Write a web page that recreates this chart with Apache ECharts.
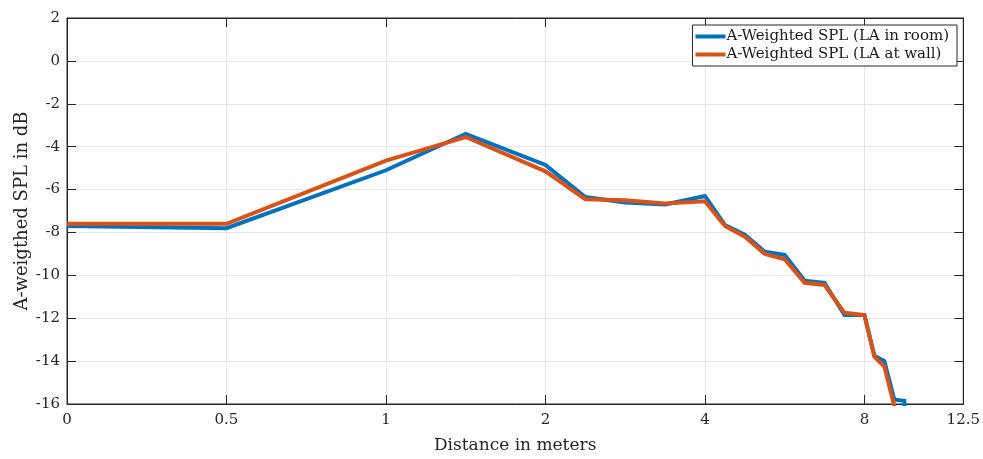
<!DOCTYPE html>
<html>
<head>
<meta charset="utf-8">
<script src="https://cdn.jsdelivr.net/npm/echarts@6/dist/echarts.min.js"></script>
<style>
html,body{margin:0;padding:0;background:#fff;}
#c{width:983px;height:459px;}
</style>
</head>
<body>
<div id="c"></div>
<script>
// Distances in meters
const distances = [0, 0.5, 1, 1.5, 2, 2.5, 3, 3.5, 4, 4.5, 5, 5.5, 6, 6.5, 7, 7.5, 8, 8.5, 9, 9.5, 10, 10.5];
// A-weighted SPL in dB
const laInRoom = [-7.7, -7.8, -5.1, -3.4, -4.85, -6.35, -6.6, -6.7, -6.3, -7.65, -8.1, -8.9, -9.05, -10.25, -10.35, -11.85, -11.85, -13.75, -14.0, -15.8, -15.85, -30];
const laAtWall = [-7.6, -7.6, -4.65, -3.55, -5.15, -6.45, -6.5, -6.65, -6.55, -7.7, -8.2, -9.0, -9.25, -10.35, -10.45, -11.75, -11.85, -13.8, -14.25, -16.1, -30, -30];
// Tick labels on the distance axis
const xTickLabels = ['0', '0.5', '1', '2', '4', '8', '12.5'];
const seriesNames = ['A-Weighted SPL (LA in room)', 'A-Weighted SPL (LA at wall)'];

// Octave-wise piecewise-linear axis transform (each doubling = one unit)
function pos(d) {
  if (d <= 0.5) return d / 0.5;
  const k = Math.floor(Math.log2(d) + 1e-9);
  const base = Math.pow(2, k);
  return (k + 2) + (d - base) / base;
}
const X_MAX = 5.62;

function fmtX(v) {
  if (v > 5.5) return xTickLabels[6];
  const i = Math.round(v);
  return Math.abs(v - i) < 1e-6 ? (xTickLabels[i] || '') : '';
}

const FONT = 'DejaVu Serif';
const AX = '#262626';
const chart = echarts.init(document.getElementById('c'), null, {renderer: 'canvas'});

const baseX = {
  type: 'value', min: 0, max: X_MAX, interval: 1,
  axisLine: {show: true, onZero: false, lineStyle: {color: AX, width: 1}},
  axisTick: {show: true, inside: true, length: 9, lineStyle: {color: AX}},
};
const baseY = {
  type: 'value', min: -16, max: 2, interval: 2,
  axisLine: {show: true, onZero: false, lineStyle: {color: AX, width: 1}},
  axisTick: {show: true, inside: true, length: 9, lineStyle: {color: AX}},
};

chart.setOption({
  animation: false,
  backgroundColor: '#fff',
  textStyle: {fontFamily: FONT},
  grid: {left: 67, right: 19, top: 18, bottom: 53, show: true, borderColor: AX, borderWidth: 1, backgroundColor: '#fff'},
  legend: {
    orient: 'vertical', right: 26, top: 25,
    backgroundColor: '#fff', borderColor: AX, borderWidth: 1,
    padding: [4, 8, 4, 3], itemGap: 3,
    itemWidth: 30, itemHeight: 4, icon: 'rect',
    textStyle: {fontFamily: FONT, fontSize: 15, color: '#1a1a1a', padding: [0, 0, 0, -4]},
    data: seriesNames
  },
  xAxis: [
    Object.assign({}, baseX, {
      position: 'bottom',
      name: 'Distance in meters', nameLocation: 'middle', nameGap: 33, nameMoveOverlap: false,
      nameTextStyle: {fontFamily: FONT, fontSize: 17, color: '#262626'},
      axisLabel: {show: true, formatter: fmtX, margin: 9, fontFamily: FONT, fontSize: 15, color: '#262626'},
      splitLine: {show: true, lineStyle: {color: '#e6e6e6', width: 1}}
    }),
    Object.assign({}, baseX, {
      position: 'top', axisLabel: {show: false}, splitLine: {show: false}
    })
  ],
  yAxis: [
    Object.assign({}, baseY, {
      position: 'left',
      name: 'A-weigthed SPL in dB', nameLocation: 'middle', nameGap: 36, nameRotate: 90, nameMoveOverlap: false,
      nameTextStyle: {fontFamily: FONT, fontSize: 18, color: '#262626'},
      axisLabel: {show: true, margin: 7, fontFamily: FONT, fontSize: 15, color: '#262626'},
      splitLine: {show: true, lineStyle: {color: '#e6e6e6', width: 1}}
    }),
    Object.assign({}, baseY, {
      position: 'right', axisLabel: {show: false}, splitLine: {show: false}
    })
  ],
  series: [
    {
      name: seriesNames[0], type: 'line', xAxisIndex: 0, yAxisIndex: 0,
      data: distances.map((d, i) => [pos(d), laInRoom[i]]),
      showSymbol: false, symbol: 'none', clip: true,
      lineStyle: {color: '#0072BD', width: 4, join: 'miter'},
      itemStyle: {color: '#0072BD'}
    },
    {
      name: seriesNames[1], type: 'line', xAxisIndex: 0, yAxisIndex: 0,
      data: distances.map((d, i) => [pos(d), laAtWall[i]]),
      showSymbol: false, symbol: 'none', clip: true,
      lineStyle: {color: '#D95319', width: 4, join: 'miter'},
      itemStyle: {color: '#D95319'}
    }
  ]
});
</script>
</body>
</html>
